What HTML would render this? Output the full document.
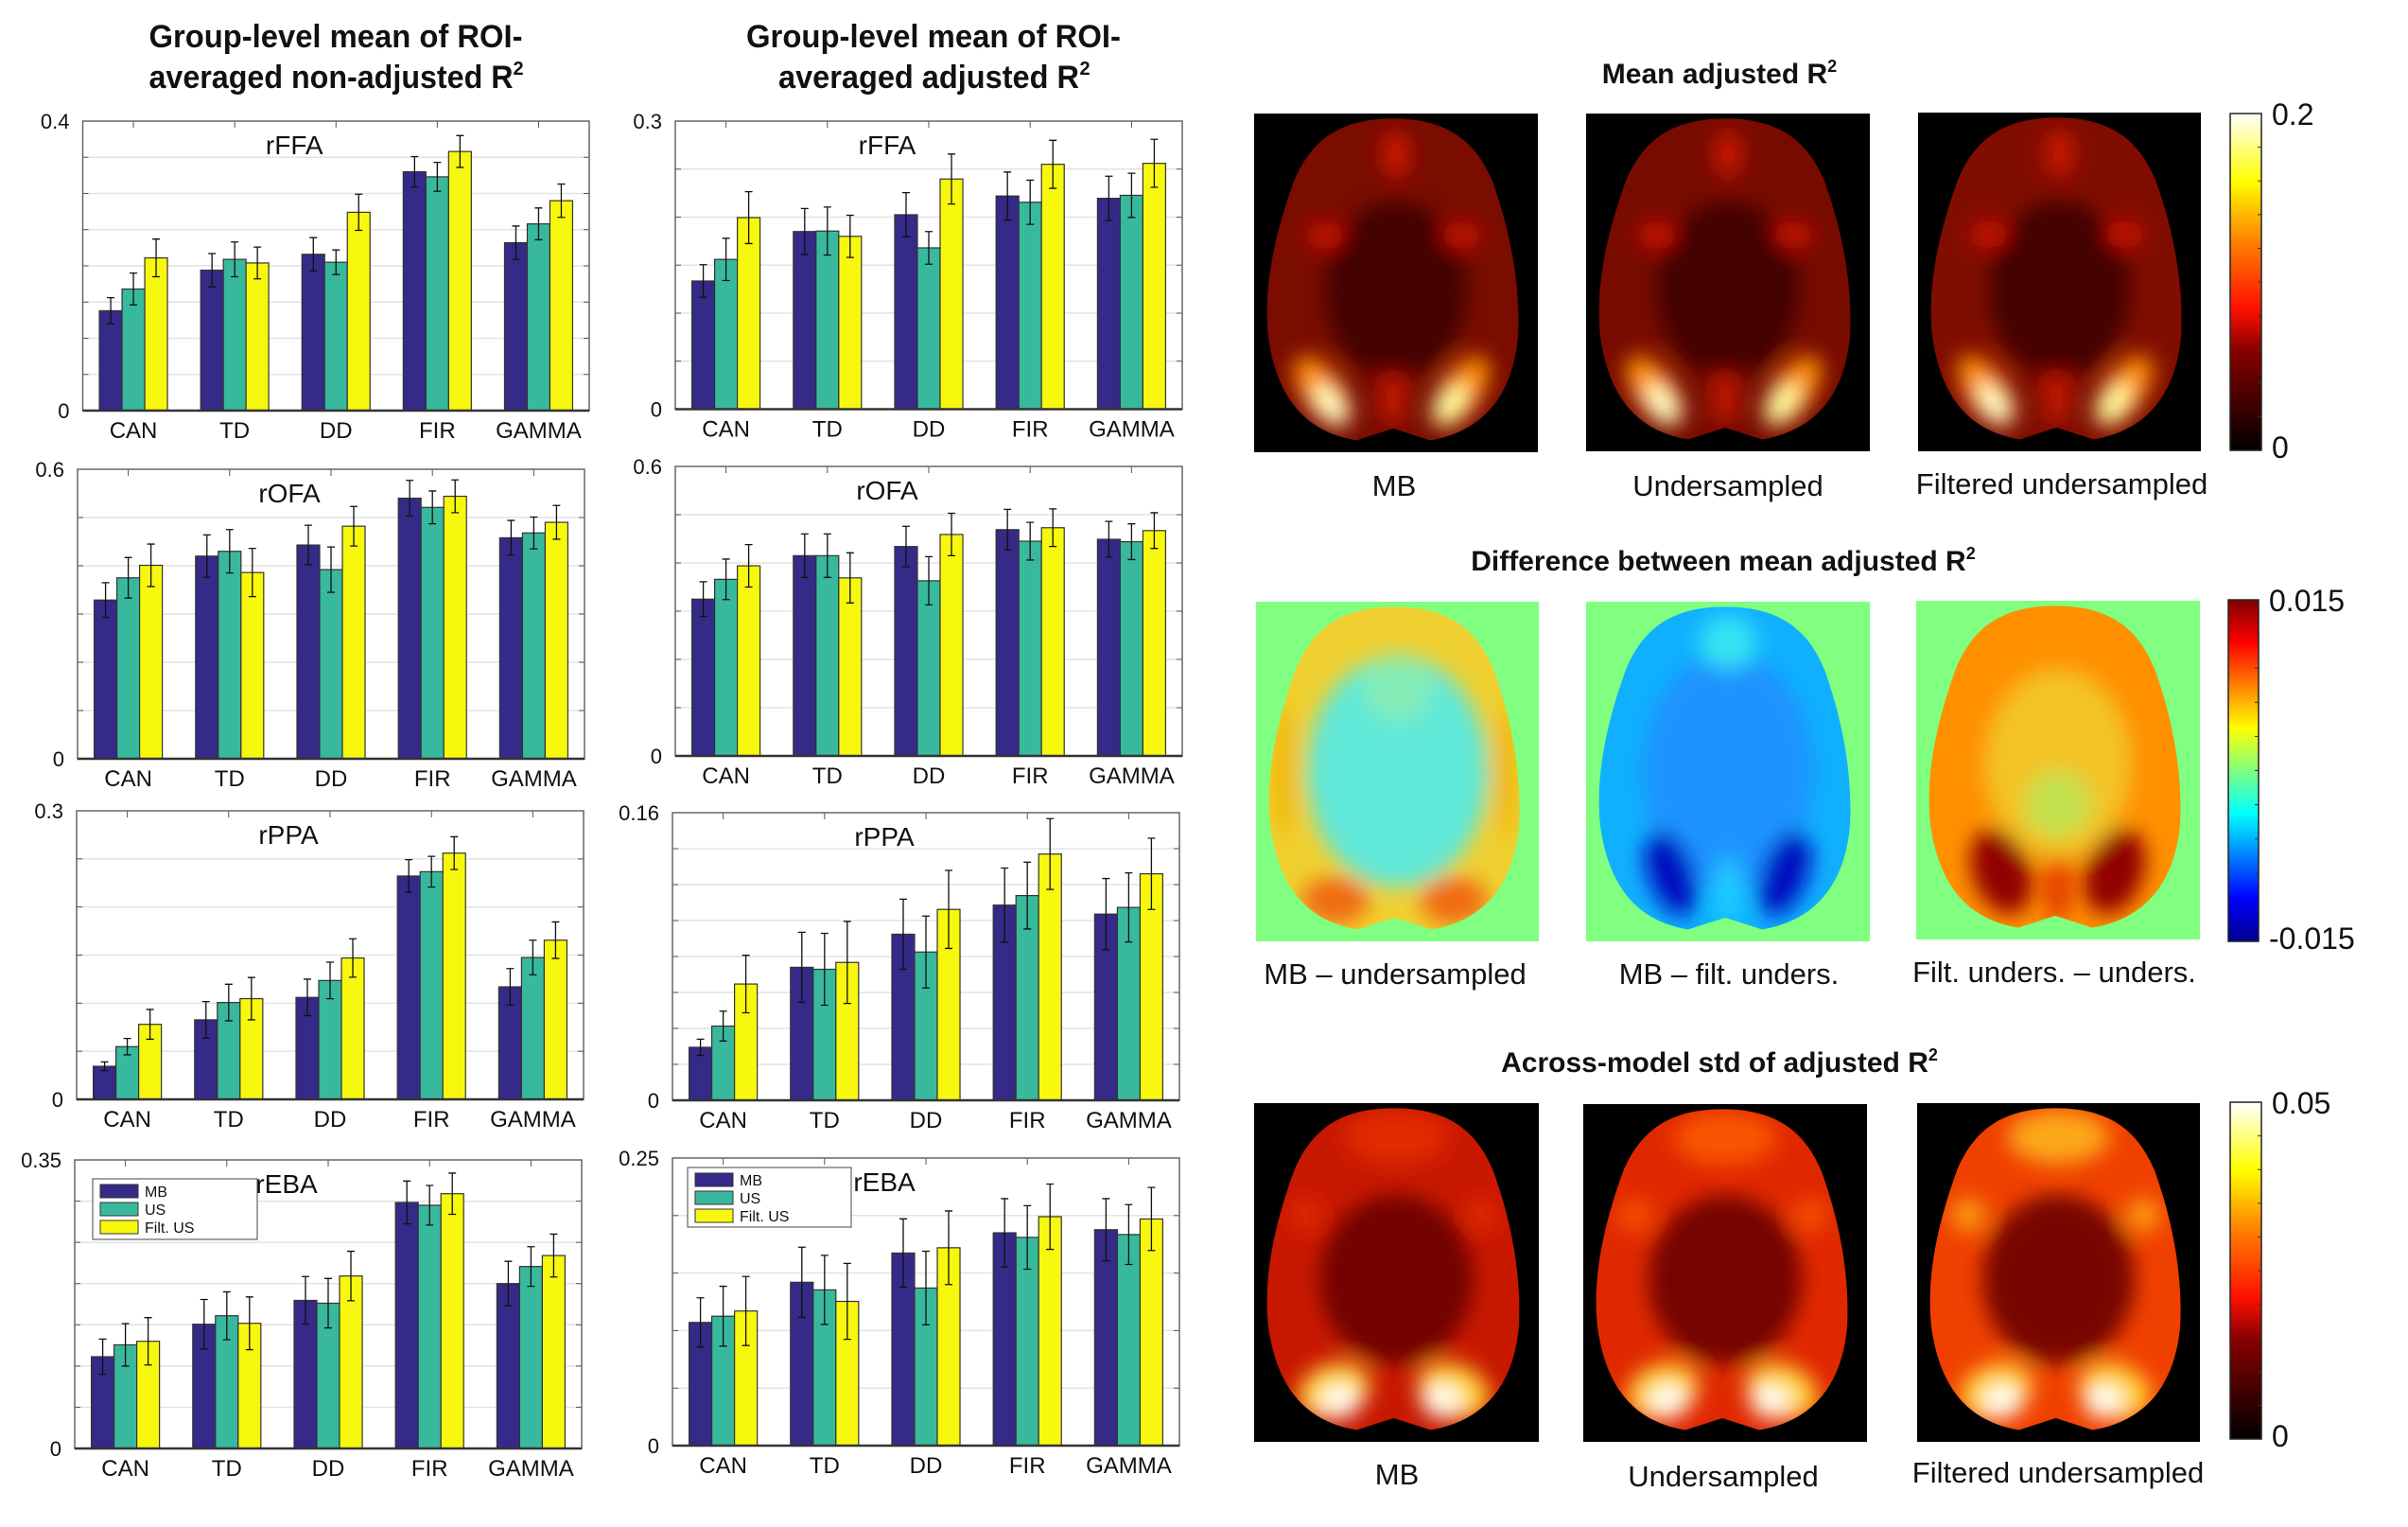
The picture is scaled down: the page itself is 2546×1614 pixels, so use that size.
<!DOCTYPE html>
<html><head><meta charset="utf-8"><title>R2 comparison figure</title>
<style>
html,body{margin:0;padding:0;background:#fff;}
svg{display:block;font-family:"Liberation Sans","DejaVu Sans",sans-serif;}
</style></head>
<body>
<svg id="fig" xmlns="http://www.w3.org/2000/svg" width="2546" height="1614" viewBox="0 0 2546 1614">
<defs>
<linearGradient id="hotGrad" x1="0" y1="1" x2="0" y2="0">
<stop offset="0" stop-color="#000"/><stop offset="0.3" stop-color="#8a0000"/><stop offset="0.42" stop-color="#ff1000"/><stop offset="0.62" stop-color="#ff8000"/><stop offset="0.8" stop-color="#ffff00"/><stop offset="1" stop-color="#fff"/>
</linearGradient>
<linearGradient id="jetGrad" x1="0" y1="1" x2="0" y2="0">
<stop offset="0" stop-color="#00008f"/><stop offset="0.125" stop-color="#0000ff"/><stop offset="0.375" stop-color="#00ffff"/><stop offset="0.5" stop-color="#80ff80"/><stop offset="0.625" stop-color="#ffff00"/><stop offset="0.875" stop-color="#ff0000"/><stop offset="1" stop-color="#800000"/>
</linearGradient>
<filter id="blur" x="-20%" y="-20%" width="140%" height="140%"><feGaussianBlur stdDeviation="11"/></filter>
</defs>

<g font-weight="bold" font-size="34" text-anchor="middle" fill="#111">
<text x="355" y="50" textLength="395" lengthAdjust="spacingAndGlyphs">Group-level mean of ROI-</text>
<text x="350" y="93" textLength="385" lengthAdjust="spacingAndGlyphs">averaged non-adjusted R</text><text x="548" y="79" font-size="20">2</text>
</g>
<g font-weight="bold" font-size="34" text-anchor="middle" fill="#111">
<text x="987" y="50" textLength="396" lengthAdjust="spacingAndGlyphs">Group-level mean of ROI-</text>
<text x="982" y="93" textLength="318" lengthAdjust="spacingAndGlyphs">averaged adjusted R</text><text x="1147" y="79" font-size="20">2</text>
</g>
<g id="charts"></g>
<g id="brains"></g>
</svg>

<script>
// ---- chart data ----
const groups = ["CAN","TD","DD","FIR","GAMMA"];
const seriesNames = ["MB","US","Filt. US"];
// rFFA non-adjusted
const ffaRawMB = [0.138,0.194,0.216,0.330,0.232];
const ffaRawUS = [0.168,0.209,0.205,0.323,0.258];
const ffaRawFUS = [0.211,0.204,0.274,0.358,0.290];
const ffaRawErrMB = [0.018,0.023,0.023,0.021,0.023];
const ffaRawErrUS = [0.022,0.024,0.017,0.020,0.022];
const ffaRawErrFUS = [0.026,0.022,0.025,0.022,0.023];
// rFFA adjusted
const ffaAdjMB = [0.1335,0.185,0.2025,0.222,0.2196];
const ffaAdjUS = [0.156,0.1855,0.168,0.2155,0.2227];
const ffaAdjFUS = [0.1995,0.180,0.2397,0.255,0.256];
const ffaAdjErrMB = [0.017,0.024,0.023,0.025,0.023];
const ffaAdjErrUS = [0.022,0.025,0.017,0.023,0.023];
const ffaAdjErrFUS = [0.027,0.022,0.026,0.025,0.025];
// rOFA non-adjusted
const ofaRawMB = [0.329,0.420,0.443,0.540,0.458];
const ofaRawUS = [0.375,0.430,0.392,0.521,0.468];
const ofaRawFUS = [0.401,0.386,0.482,0.544,0.490];
const ofaRawErrMB = [0.036,0.044,0.041,0.037,0.036];
const ofaRawErrUS = [0.042,0.045,0.047,0.034,0.033];
const ofaRawErrFUS = [0.044,0.050,0.041,0.034,0.035];
// rOFA adjusted
const ofaAdjMB = [0.325,0.415,0.434,0.469,0.449];
const ofaAdjUS = [0.366,0.415,0.363,0.445,0.444];
const ofaAdjFUS = [0.394,0.369,0.459,0.473,0.467];
const ofaAdjErrMB = [0.036,0.045,0.042,0.042,0.037];
const ofaAdjErrUS = [0.042,0.045,0.050,0.039,0.037];
const ofaAdjErrFUS = [0.044,0.052,0.044,0.039,0.037];
// rPPA non-adjusted
const ppaRawMB = [0.0344,0.0827,0.106,0.2322,0.117];
const ppaRawUS = [0.0548,0.1007,0.1236,0.2367,0.1475];
const ppaRawFUS = [0.078,0.1047,0.147,0.256,0.1655];
const ppaRawErrMB = [0.0045,0.019,0.019,0.017,0.019];
const ppaRawErrUS = [0.0085,0.019,0.019,0.016,0.018];
const ppaRawErrFUS = [0.0155,0.022,0.020,0.017,0.019];
// rPPA adjusted
const ppaAdjMB = [0.0295,0.074,0.0924,0.1086,0.1036];
const ppaAdjUS = [0.0413,0.0729,0.0825,0.1139,0.1073];
const ppaAdjFUS = [0.0647,0.0767,0.1062,0.137,0.126];
const ppaAdjErrMB = [0.0045,0.0195,0.0195,0.0206,0.0198];
const ppaAdjErrUS = [0.0083,0.020,0.020,0.0186,0.0192];
const ppaAdjErrFUS = [0.016,0.0228,0.0217,0.0197,0.0198];
// rEBA non-adjusted
const ebaRawMB = [0.1113,0.1507,0.1796,0.2984,0.200];
const ebaRawUS = [0.1257,0.161,0.1762,0.295,0.2207];
const ebaRawFUS = [0.130,0.1518,0.2092,0.309,0.234];
const ebaRawErrMB = [0.0214,0.030,0.029,0.026,0.027];
const ebaRawErrUS = [0.0258,0.029,0.030,0.024,0.024];
const ebaRawErrFUS = [0.0287,0.032,0.030,0.025,0.026];
// rEBA adjusted
const ebaAdjMB = [0.1071,0.142,0.1674,0.185,0.1877];
const ebaAdjUS = [0.1125,0.1354,0.137,0.181,0.1835];
const ebaAdjFUS = [0.117,0.1254,0.172,0.199,0.197];
const ebaAdjErrMB = [0.0214,0.0305,0.0297,0.0297,0.027];
const ebaAdjErrUS = [0.026,0.030,0.032,0.0276,0.026];
const ebaAdjErrFUS = [0.030,0.033,0.032,0.0284,0.0274];
// axis limits
const yMaxes = [0.4,0.3,0.6,0.6,0.3,0.16,0.35,0.25];
const yMaxLabels = ["0.4","0.3","0.6","0.6","0.3","0.16","0.35","0.25"];
const gridDivs = [8,6,6,6,6,8,7,5];
const roiNames = ["rFFA","rFFA","rOFA","rOFA","rPPA","rPPA","rEBA","rEBA"];

const SVGNS = "http://www.w3.org/2000/svg";
const colors = ["#352a87","#38b99d","#f8f80e"];
function mk(tag, attrs, parent){
  const e = document.createElementNS(SVGNS, tag);
  for (const k in attrs) e.setAttribute(k, attrs[k]);
  parent.appendChild(e); return e;
}
const panels = [
  {x0:87.5,x1:623,top:128,zero:434,vals:[ffaRawMB,ffaRawUS,ffaRawFUS],errs:[ffaRawErrMB,ffaRawErrUS,ffaRawErrFUS],key:"rffa-non-adjusted"},
  {x0:714,x1:1250,top:128,zero:432.5,vals:[ffaAdjMB,ffaAdjUS,ffaAdjFUS],errs:[ffaAdjErrMB,ffaAdjErrUS,ffaAdjErrFUS],key:"rffa-adjusted"},
  {x0:82,x1:618,top:496,zero:802,vals:[ofaRawMB,ofaRawUS,ofaRawFUS],errs:[ofaRawErrMB,ofaRawErrUS,ofaRawErrFUS],key:"rofa-non-adjusted"},
  {x0:714,x1:1250,top:493,zero:799,vals:[ofaAdjMB,ofaAdjUS,ofaAdjFUS],errs:[ofaAdjErrMB,ofaAdjErrUS,ofaAdjErrFUS],key:"rofa-adjusted"},
  {x0:81,x1:617,top:857,zero:1162,vals:[ppaRawMB,ppaRawUS,ppaRawFUS],errs:[ppaRawErrMB,ppaRawErrUS,ppaRawErrFUS],key:"rppa-non-adjusted"},
  {x0:711,x1:1247,top:859,zero:1163,vals:[ppaAdjMB,ppaAdjUS,ppaAdjFUS],errs:[ppaAdjErrMB,ppaAdjErrUS,ppaAdjErrFUS],key:"rppa-adjusted"},
  {x0:79,x1:615,top:1226,zero:1531,vals:[ebaRawMB,ebaRawUS,ebaRawFUS],errs:[ebaRawErrMB,ebaRawErrUS,ebaRawErrFUS],key:"reba-non-adjusted",legend:[98,1246,174,64]},
  {x0:711,x1:1247,top:1224,zero:1528,vals:[ebaAdjMB,ebaAdjUS,ebaAdjFUS],errs:[ebaAdjErrMB,ebaAdjErrUS,ebaAdjErrFUS],key:"reba-adjusted",legend:[727,1234,173,63]}
];
const chartsG = document.getElementById("charts");
panels.forEach((p, pi) => {
  const g = mk("g", {}, chartsG);
  
  
  const yMax = yMaxes[pi];
  const yScale = v => p.zero - v / yMax * (p.zero - p.top);
  const spacing = (p.x1 - p.x0) / groups.length;
  const xCenter = i => p.x0 + (i + 0.5) * spacing;
  const bw = spacing * 0.224;
  mk("rect", {x:p.x0, y:p.top, width:p.x1-p.x0, height:p.zero-p.top, fill:"#fff"}, g);
  const nd = gridDivs[pi];
  for (let k = 1; k < nd; k++) {
    const gy = yScale(yMax * k / nd);
    const gl = mk("line", {x1:p.x0, x2:p.x1, y1:gy, y2:gy, stroke:"#e3e3e3", "stroke-width":1.5}, g);
    
    
    mk("line", {x1:p.x0, x2:p.x0+6, y1:gy, y2:gy, stroke:"#555", "stroke-width":1}, g);
    mk("line", {x1:p.x1-6, x2:p.x1, y1:gy, y2:gy, stroke:"#555", "stroke-width":1}, g);
  }
  for (let s = 0; s < 3; s++) {
    for (let i = 0; i < groups.length; i++) {
      const v = p.vals[s][i];
      const bx = xCenter(i) + (s - 1.5) * bw;
      const by = yScale(v);
      const r = mk("rect", {x:bx, y:by, width:bw, height:p.zero-by, fill:colors[s], stroke:"#333", "stroke-width":1.2}, g);
      
      
      const e = p.errs[s][i];
      const cx = bx + bw / 2, ya = yScale(v + e), yb = yScale(v - e);
      const eb = mk("path", {d:`M${cx},${ya}V${yb}M${cx-4},${ya}H${cx+4}M${cx-4},${yb}H${cx+4}`, stroke:"#111", "stroke-width":1.3, fill:"none"}, g);
      
      
    }
  }
  for (let i = 0; i < groups.length; i++) {
    const cx = xCenter(i);
    mk("line", {x1:cx, x2:cx, y1:p.top, y2:p.top+7, stroke:"#555", "stroke-width":1}, g);
    const t = mk("text", {x:cx, y:p.zero+29, "font-size":24, "text-anchor":"middle", fill:"#111"}, g);
    
    
    t.textContent = groups[i];
  }
  mk("rect", {x:p.x0, y:p.top, width:p.x1-p.x0, height:p.zero-p.top, fill:"none", stroke:"#666", "stroke-width":1.5}, g);
  mk("line", {x1:p.x0, x2:p.x1, y1:p.zero, y2:p.zero, stroke:"#333", "stroke-width":2.5}, g);
  const yl = mk("text", {x:p.x0-14, y:p.top+8, "font-size":22, "text-anchor":"end", fill:"#111"}, g);
  
  
  yl.textContent = yMaxLabels[pi];
  const y0 = mk("text", {x:p.x0-14, y:p.zero+8, "font-size":22, "text-anchor":"end", fill:"#111"}, g);
  
  
  y0.textContent = "0";
  const rt = mk("text", {x:(p.x0+p.x1)/2-44, y:p.top+35, "font-size":28, "text-anchor":"middle", fill:"#111"}, g);
  
  
  rt.textContent = roiNames[pi];
  if (p.legend) {
    const [lx, ly, lw, lh] = p.legend;
    const lg = mk("g", {}, g);
    
    
    mk("rect", {x:lx, y:ly, width:lw, height:lh, fill:"#fff", stroke:"#444", "stroke-width":1}, lg);
    for (let s = 0; s < 3; s++) {
      const ry = ly + 6 + s * 19;
      const sw = mk("rect", {x:lx+8, y:ry, width:40, height:14, fill:colors[s], stroke:"#333", "stroke-width":1}, lg);
      
      
      const lt = mk("text", {x:lx+55, y:ry+13, "font-size":16, fill:"#111"}, lg);
      
      
      lt.textContent = seriesNames[s];
    }
  }
});

// ---- brain maps ----
const brainsG = document.getElementById("brains");
let uid = 0;
function brainPath(x, y, w, h) {
  const X = f => (x + f * w).toFixed(1), Y = f => (y + f * h).toFixed(1);
  return `M${X(0.49)},${Y(0.015)} C${X(0.68)},${Y(0.015)} ${X(0.78)},${Y(0.08)} ${X(0.84)},${Y(0.2)} C${X(0.9)},${Y(0.34)} ${X(0.94)},${Y(0.5)} ${X(0.93)},${Y(0.66)} C${X(0.91)},${Y(0.84)} ${X(0.8)},${Y(0.94)} ${X(0.62)},${Y(0.965)} L${X(0.49)},${Y(0.93)} L${X(0.36)},${Y(0.965)} C${X(0.18)},${Y(0.94)} ${X(0.08)},${Y(0.84)} ${X(0.05)},${Y(0.66)} C${X(0.03)},${Y(0.5)} ${X(0.08)},${Y(0.34)} ${X(0.14)},${Y(0.2)} C${X(0.2)},${Y(0.08)} ${X(0.3)},${Y(0.015)} ${X(0.49)},${Y(0.015)} Z`;
}
function brain(name, x, y, w, h, bg, base, blobs) {
  const g = mk("g", {}, brainsG);
  
  
  mk("rect", {x:x, y:y, width:w, height:h, fill:bg}, g);
  const id = "clip" + (uid++);
  const cp = mk("clipPath", {id:id}, g);
  mk("path", {d:brainPath(x, y, w, h)}, cp);
  const inner = mk("g", {"clip-path":`url(#${id})`}, g);
  mk("rect", {x:x, y:y, width:w, height:h, fill:base}, inner);
  const bl = mk("g", {filter:"url(#blur)"}, inner);
  blobs.forEach(b => {
    mk("ellipse", {cx:x+b[0]*w, cy:y+b[1]*h, rx:b[2]*w, ry:b[3]*h, fill:b[4], opacity:b[5] === undefined ? 1 : b[5], transform:b[6] ? `rotate(${b[6]} ${x+b[0]*w} ${y+b[1]*h})` : ""}, bl);
  });
}
function caption(text, cx, cy, name) {
  const t = mk("text", {x:cx, y:cy, "font-size":31, "text-anchor":"middle", fill:"#111"}, brainsG);
  
  
  t.textContent = text;
}
function sectionTitle(text, cx, cy, name) {
  const t = mk("text", {x:cx, y:cy, "font-size":30, "font-weight":"bold", "text-anchor":"middle", fill:"#111"}, brainsG);
  
  
  t.textContent = text;
  const sup = mk("tspan", {"font-size":18, dy:-12}, t);
  sup.textContent = "2";
}
function colorbar(x, y, w, h, grad, top, bottom, name) {
  const g = mk("g", {}, brainsG);
  
  
  mk("rect", {x:x, y:y, width:w, height:h, fill:`url(#${grad})`, stroke:"#222", "stroke-width":1.5}, g);
  for (let k = 1; k < 10; k++) mk("line", {x1:x+w-4, x2:x+w, y1:y+h*k/10, y2:y+h*k/10, stroke:"#333", "stroke-width":1}, g);
  const t1 = mk("text", {x:x+w+11, y:y+12, "font-size":32, fill:"#111"}, g);
  t1.textContent = top;
  const t2 = mk("text", {x:x+w+11, y:y+h+8, "font-size":32, fill:"#111"}, g);
  t2.textContent = bottom;
}

// Row 1: mean adjusted R2 (hot)
const hotBlobs = () => [
  [0.5,0.52,0.25,0.26,"#3a0200",0.85],
  [0.5,0.12,0.05,0.07,"#e01800",0.8],
  [0.25,0.36,0.07,0.04,"#d81200",0.8],[0.73,0.36,0.07,0.04,"#d81200",0.8],
  [0.24,0.82,0.07,0.12,"#ff9000",1,-35],[0.73,0.82,0.07,0.12,"#ff9000",1,35],
  [0.27,0.86,0.05,0.07,"#ffffc0",1,-35],[0.69,0.86,0.05,0.07,"#ffffa0",1,35],
  [0.49,0.84,0.05,0.08,"#c81800",0.9]
];
sectionTitle("Mean adjusted R", 1818, 88, "mean-adjusted-title");
brain("brain-mean-mb", 1326, 120, 300, 358, "#000", "#7a0c00", hotBlobs());
brain("brain-mean-undersampled", 1677, 120, 300, 357, "#000", "#780b00", hotBlobs());
brain("brain-mean-filtered", 2028, 119, 299, 358, "#000", "#800d00", hotBlobs());
colorbar(2358, 120, 33, 356, "hotGrad", "0.2", "0", "colorbar-mean");
caption("MB", 1474, 524, "caption-mb");
caption("Undersampled", 1827, 524, "caption-undersampled");
caption("Filtered undersampled", 2180, 522, "caption-filtered-undersampled");

// Row 2: differences (jet)
sectionTitle("Difference between mean adjusted R", 1822, 603, "difference-title");
brain("diff-mb-undersampled", 1328, 636, 299, 359, "#80ff80", "#f0d030", [
  [0.5,0.5,0.32,0.34,"#60e8d8",1],[0.5,0.25,0.12,0.1,"#a0f0a0",0.6],
  [0.28,0.88,0.12,0.07,"#f06010",0.9],[0.7,0.88,0.12,0.07,"#f06010",0.9],
  [0.1,0.5,0.04,0.2,"#f0b000",0.8],[0.88,0.5,0.04,0.2,"#f0b000",0.8]]);
brain("diff-mb-filt-unders", 1677, 636, 300, 359, "#80ff80", "#10b0ff", [
  [0.5,0.5,0.3,0.35,"#2090ff",0.9],[0.5,0.12,0.1,0.08,"#40f0f0",0.8],
  [0.3,0.8,0.08,0.13,"#0010c0",1,-20],[0.7,0.8,0.08,0.13,"#0010c0",1,20],
  [0.5,0.85,0.05,0.1,"#20d0ff",0.9]]);
brain("diff-filt-unders-unders", 2026, 635, 300, 358, "#80ff80", "#ff9000", [
  [0.5,0.48,0.26,0.28,"#f0d030",0.8],[0.5,0.6,0.12,0.1,"#b0f060",0.7],
  [0.3,0.8,0.1,0.13,"#900000",1,-20],[0.7,0.8,0.1,0.13,"#900000",1,20],
  [0.5,0.85,0.05,0.1,"#e03000",0.9]]);
colorbar(2356, 634, 32, 361, "jetGrad", "0.015", "-0.015", "colorbar-difference");
caption("MB \u2013 undersampled", 1475, 1040, "caption-mb-minus-undersampled");
caption("MB \u2013 filt. unders.", 1828, 1040, "caption-mb-minus-filt");
caption("Filt. unders. \u2013 unders.", 2172, 1038, "caption-filt-minus-unders");

// Row 3: across-model std (hot)
const stdBlobs = (t) => [
  [0.5,0.52,0.27,0.25,"#6a0500",0.9],
  [0.5,0.1,0.18,0.08,t,0.8],
  [0.18,0.33,0.06,0.05,t,0.7],[0.8,0.33,0.06,0.05,t,0.7],
  [0.28,0.85,0.13,0.08,"#ffd030",1,-20],[0.7,0.85,0.13,0.08,"#ffd030",1,20],
  [0.3,0.88,0.07,0.05,"#fffff0",1],[0.66,0.88,0.07,0.05,"#fffff0",1]
];
sectionTitle("Across-model std of adjusted R", 1818, 1133, "std-title");
brain("std-mb", 1326, 1166, 301, 358, "#000", "#c81800", stdBlobs("#e83000"));
brain("std-undersampled", 1674, 1167, 300, 357, "#000", "#e02800", stdBlobs("#ff6000"));
brain("std-filtered", 2027, 1166, 299, 358, "#000", "#f04000", stdBlobs("#ffc020"));
colorbar(2358, 1165, 33, 356, "hotGrad", "0.05", "0", "colorbar-std");
caption("MB", 1477, 1569, "caption-std-mb");
caption("Undersampled", 1822, 1571, "caption-std-undersampled");
caption("Filtered undersampled", 2176, 1567, "caption-std-filtered");
</script>
</body></html>
